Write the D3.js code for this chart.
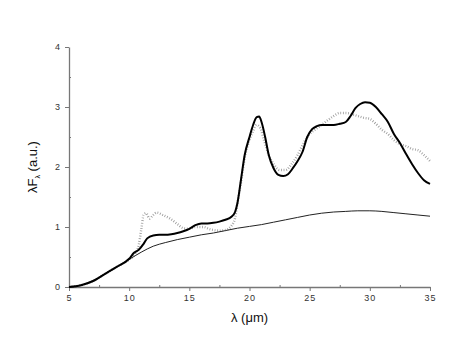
<!DOCTYPE html>
<html>
<head>
<meta charset="utf-8">
<script src="https://cdn.jsdelivr.net/npm/d3@7"></script>
<style>
  body { margin: 0; background: #fff; }
  text { font-family: "Liberation Sans", Arial, sans-serif; }
</style>
</head>
<body>
<div id="chart"></div>
<script>
// wavelength grid (um) and flux values
var contLambda = [5, 6, 7, 8, 9, 10, 11, 12, 13, 14, 15, 16, 17, 18, 19, 20, 21, 22, 23, 24, 25, 26, 27, 28, 29, 30, 31, 32, 33, 34, 35];
var contFlux   = [0, 0.03, 0.1, 0.22, 0.34, 0.46, 0.58, 0.68, 0.74, 0.79, 0.83, 0.87, 0.9, 0.94, 0.98, 1.01, 1.04, 1.08, 1.12, 1.16, 1.2, 1.23, 1.25, 1.26, 1.27, 1.27, 1.26, 1.24, 1.22, 1.2, 1.18];

var modelLambda = [5, 6, 7, 8, 9, 10, 10.4, 10.8, 11.2, 11.5, 12, 12.5, 13, 13.5, 14, 14.5, 15, 15.5, 16, 16.5, 17, 17.5, 18, 18.5, 18.8, 19, 19.3, 19.6, 20, 20.3, 20.6, 20.8, 21, 21.3, 21.6, 22, 22.4, 22.8, 23.2, 23.6, 24, 24.4, 24.8, 25.2, 25.6, 26, 26.5, 27, 27.5, 28, 28.4, 28.8, 29.2, 29.6, 30, 30.5, 31, 31.5, 32, 32.5, 33, 33.5, 34, 34.5, 35];
var modelFlux   = [0, 0.03, 0.1, 0.22, 0.34, 0.47, 0.57, 0.62, 0.72, 0.81, 0.86, 0.87, 0.87, 0.88, 0.9, 0.93, 0.97, 1.03, 1.06, 1.06, 1.07, 1.09, 1.12, 1.17, 1.25, 1.4, 1.8, 2.2, 2.5, 2.7, 2.83, 2.84, 2.75, 2.5, 2.2, 1.98, 1.87, 1.85, 1.88, 1.98, 2.1, 2.25, 2.5, 2.63, 2.68, 2.7, 2.7, 2.7, 2.72, 2.75, 2.85, 2.98, 3.05, 3.08, 3.07, 3.0, 2.88, 2.75, 2.55, 2.4, 2.22, 2.05, 1.9, 1.78, 1.72];

var obsLambda = [5, 6, 7, 8, 9, 10, 10.5, 10.8, 11, 11.2, 11.4, 11.7, 12, 12.3, 12.8, 13.4, 14, 14.5, 15, 15.5, 16.2, 16.6, 17, 17.5, 18, 18.5, 18.8, 19, 19.3, 19.6, 20, 20.3, 20.6, 20.9, 21.2, 21.6, 22, 22.5, 23, 23.5, 24, 24.5, 25, 25.5, 26, 26.5, 27, 27.5, 28, 28.5, 29, 29.5, 30, 30.5, 31, 31.5, 32, 32.5, 33, 33.5, 34, 34.5, 35];
var obsFlux   = [0, 0.03, 0.1, 0.22, 0.34, 0.46, 0.55, 0.7, 0.95, 1.2, 1.23, 1.14, 1.2, 1.24, 1.2, 1.14, 1.05, 0.98, 0.97, 1.0, 1.0, 0.97, 0.95, 0.94, 0.95, 1.02, 1.15, 1.4, 1.75, 2.15, 2.45, 2.6, 2.7, 2.65, 2.45, 2.2, 2.05, 1.95, 1.95, 2.05, 2.2, 2.4, 2.55, 2.63, 2.7, 2.78, 2.85, 2.9, 2.9, 2.88, 2.85, 2.82, 2.8, 2.72, 2.62, 2.55, 2.45, 2.38, 2.35, 2.3, 2.28, 2.2, 2.1];

var xTicks = [5, 10, 15, 20, 25, 30, 35];
var yTicks = [0, 1, 2, 3, 4];

var margin = {top: 47, right: 44, bottom: 52, left: 69},
    width = 474 - margin.left - margin.right,
    height = 339 - margin.top - margin.bottom;

var svg = d3.select("#chart")
    .append("svg")
    .attr("width", width + margin.left + margin.right)
    .attr("height", height + margin.top + margin.bottom)
    .append("g")
    .attr("transform", "translate(" + margin.left + "," + margin.top + ")");

var x = d3.scaleLinear().domain([5, 35]).range([0, width]);
var y = d3.scaleLinear().domain([0, 4]).range([height, 0]);

// minor ticks (inside)
svg.append("g")
    .attr("transform", "translate(0," + height + ")")
    .call(d3.axisBottom(x).tickValues(d3.range(7.5, 35, 5)).tickSize(-2).tickFormat(""))
    .call(function(g) { g.select(".domain").remove(); g.selectAll("line").attr("stroke", "#777"); });
svg.append("g")
    .call(d3.axisLeft(y).tickValues(d3.range(0.5, 4, 1)).tickSize(-2).tickFormat(""))
    .call(function(g) { g.select(".domain").remove(); g.selectAll("line").attr("stroke", "#777"); });

// major axes
var xAxis = svg.append("g")
    .attr("transform", "translate(0," + height + ")")
    .call(d3.axisBottom(x).tickValues(xTicks).tickSize(4).tickPadding(4).tickSizeOuter(0));
xAxis.select(".domain").attr("stroke", "#777").attr("stroke-width", 1.3);
xAxis.selectAll("line").attr("stroke", "#777");
xAxis.selectAll("text").style("font-size", "9px").style("letter-spacing", "1px").attr("fill", "#333");

var yAxis = svg.append("g")
    .call(d3.axisLeft(y).tickValues(yTicks).tickFormat(d3.format("d")).tickSize(4).tickPadding(5).tickSizeOuter(0));
yAxis.select(".domain").attr("stroke", "#777").attr("stroke-width", 1.3);
yAxis.selectAll("line").attr("stroke", "#777");
yAxis.selectAll("text").style("font-size", "9px").attr("fill", "#333");

// axis titles
svg.append("text")
    .attr("x", width / 2)
    .attr("y", height + 35)
    .attr("text-anchor", "middle")
    .style("font-size", "13px")
    .attr("fill", "#111")
    .text("λ (μm)");

var yLab = svg.append("text")
    .attr("transform", "translate(-32," + (height / 2) + ") rotate(-90)")
    .attr("text-anchor", "middle")
    .style("font-size", "13px")
    .attr("fill", "#111");
yLab.append("tspan").text("λF");
yLab.append("tspan").attr("dy", 3).style("font-size", "7px").text("λ");
yLab.append("tspan").attr("dy", -3).text(" (a.u.)");

function lineOf(xs, ys) {
  return d3.line()
    .x(function(d, i) { return x(xs[i]); })
    .y(function(d, i) { return y(ys[i]); })
    .curve(d3.curveMonotoneX)(xs);
}

// observed (dotted grey, speckled band)
svg.append("path")
    .attr("d", lineOf(obsLambda, obsFlux))
    .attr("fill", "none")
    .attr("stroke", "#999")
    .attr("stroke-width", 2.4)
    .attr("stroke-dasharray", "0.8,1.8");

// continuum (thin)
svg.append("path")
    .attr("d", lineOf(contLambda, contFlux))
    .attr("fill", "none")
    .attr("stroke", "#222")
    .attr("stroke-width", 1);

// model (thick)
svg.append("path")
    .attr("d", lineOf(modelLambda, modelFlux))
    .attr("fill", "none")
    .attr("stroke", "#000")
    .attr("stroke-width", 2);
</script>
</body>
</html>
